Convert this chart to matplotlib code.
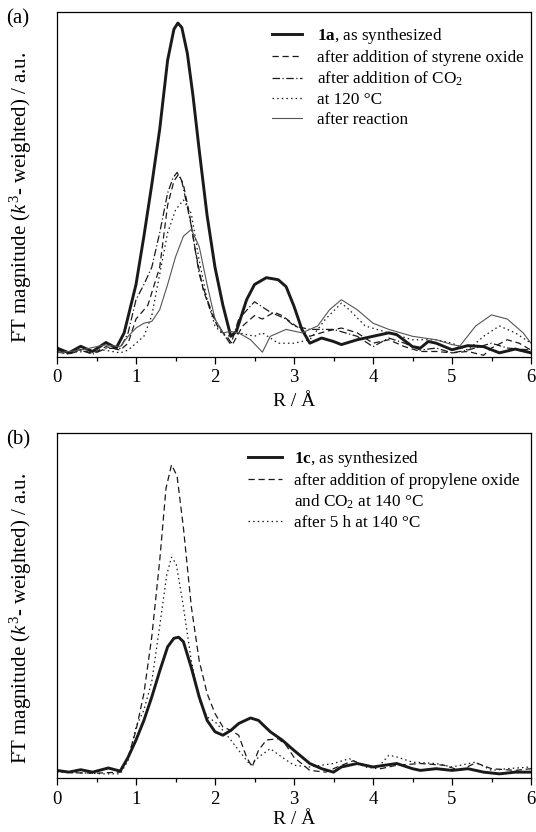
import matplotlib
matplotlib.use('Agg')
import matplotlib.pyplot as plt
from matplotlib.lines import Line2D

plt.rcParams['font.family'] = ['Liberation Serif', 'DejaVu Serif']
plt.rcParams['mathtext.fontset'] = 'custom'
plt.rcParams['mathtext.rm'] = 'Liberation Serif'
plt.rcParams['mathtext.it'] = 'Liberation Serif:italic'
plt.rcParams['mathtext.bf'] = 'Liberation Serif:bold'

# ---- panel (a): FT magnitude vs R (a.u., 0-100 scale)
r_a1 = [0, 0.15, 0.3, 0.45, 0.62, 0.75, 0.85, 1.0, 1.1, 1.2, 1.3, 1.4, 1.48, 1.53, 1.58, 1.65, 1.72, 1.8, 1.9,
        2.0, 2.1, 2.2, 2.27, 2.4, 2.5, 2.65, 2.8, 2.9, 3.0, 3.1, 3.2, 3.35, 3.5, 3.6, 3.8, 4.0, 4.2, 4.3,
        4.5, 4.6, 4.7, 4.8, 5.0, 5.2, 5.4, 5.6, 5.8, 6.0]
y_a1 = [2.6, 1.2, 3.1, 1.6, 4.2, 2.6, 7, 21, 35, 50, 66, 86, 95, 96.8, 95.5, 88, 76, 60, 41,
        26, 15, 6, 7.4, 16.6, 21, 23, 22.4, 20.4, 14.7, 8, 4, 5.5, 4.5, 3.6, 5, 6, 7, 6.5,
        3, 2.6, 4.5, 4, 2.1, 3.3, 3, 1.2, 2.3, 1.2]

r_a2 = [0, 0.15, 0.3, 0.45, 0.62, 0.8, 0.9, 1.0, 1.15, 1.3, 1.4, 1.48, 1.54, 1.6, 1.68, 1.75, 1.85, 1.95, 2.05,
        2.15, 2.22, 2.35, 2.5, 2.6, 2.75, 2.85, 3.0, 3.2, 3.4, 3.6, 3.8, 4.0, 4.2, 4.4, 4.6, 4.8, 5.0,
        5.2, 5.4, 5.5, 5.7, 5.85, 6.0]
y_a2 = [2, 1, 2.2, 1, 3, 2, 4, 11, 15, 26, 44, 51, 53, 50, 41, 31, 19.5, 13, 8,
        6, 3.6, 9, 12, 11, 13, 12, 9.4, 6, 7.4, 8.4, 7, 4, 5, 3, 1.6, 1.6, 1.2,
        1.6, 0.5, 2.6, 5, 4, 2]

r_a3 = [0, 0.15, 0.3, 0.45, 0.62, 0.8, 0.9, 1.0, 1.1, 1.2, 1.3, 1.4, 1.47, 1.52, 1.58, 1.7, 1.8, 1.9, 2.0,
        2.1, 2.2, 2.3, 2.5, 2.7, 2.9, 3.0, 3.2, 3.5, 3.8, 4.0, 4.2, 4.4, 4.6, 4.8, 5.0, 5.2, 5.5, 5.7, 6.0]
y_a3 = [1.5, 0.8, 2, 0.8, 2.5, 2.5, 7, 16.6, 21, 26, 36, 47.5, 52, 53.5, 51, 38, 24, 16.6, 11,
        7, 3.6, 11, 16, 13, 11, 9, 8, 8, 6, 3, 5.5, 4, 2, 2.6, 1.2, 2, 4, 2.6, 2]

r_a4 = [0, 0.3, 0.6, 0.8, 0.9, 1.0, 1.1, 1.2, 1.3, 1.4, 1.5, 1.6, 1.7, 1.8, 1.9, 2.0, 2.1, 2.2, 2.3, 2.5,
        2.6, 2.8, 3.0, 3.2, 3.4, 3.6, 3.7, 3.9, 4.2, 4.5, 4.8, 5.0, 5.2, 5.4, 5.6, 5.8, 6.0]
y_a4 = [1.5, 1.5, 2, 1.2, 2, 4, 6, 12, 24, 36, 42.6, 45.5, 41.6, 28, 16.6, 9, 6.5, 6, 7, 6,
        7, 4, 4, 5, 11, 15.6, 13.7, 9, 7, 5, 5, 4, 2, 6, 9, 7, 4]

r_a5 = [0, 0.3, 0.6, 0.8, 0.9, 1.0, 1.1, 1.2, 1.3, 1.4, 1.5, 1.6, 1.7, 1.8, 1.9, 2.0, 2.1, 2.2, 2.3, 2.45,
        2.6, 2.7, 2.9, 3.1, 3.3, 3.45, 3.6, 3.8, 4.0, 4.2, 4.5, 4.8, 5.0, 5.1, 5.3, 5.5, 5.7, 5.9, 6.0]
y_a5 = [1.2, 2, 3.5, 3, 6, 8.4, 9.8, 10.3, 13.7, 21, 29, 35, 37, 32, 21, 11, 7, 7.4, 7, 5,
        1.4, 6, 8, 7, 9, 13.7, 16.6, 13.7, 9.8, 8, 6, 5, 3.6, 3.2, 9, 12.2, 11, 7, 4]

labels_a = [r'$\mathbf{1a}$, as synthesized', 'after addition of styrene oxide',
            r'after addition of CO$_2$', 'at 120 °C', 'after reaction']

# ---- panel (b)
r_b1 = [0, 0.15, 0.3, 0.45, 0.65, 0.8, 0.9, 1.0, 1.1, 1.2, 1.3, 1.4, 1.48, 1.54, 1.6, 1.7, 1.8, 1.9, 2.0, 2.1,
        2.2, 2.3, 2.45, 2.55, 2.7, 2.85, 3.0, 3.2, 3.35, 3.5, 3.6, 3.8, 4.0, 4.3, 4.5, 4.6, 4.8, 5.0,
        5.2, 5.4, 5.6, 5.8, 6.0]
y_b1 = [2.2, 1.7, 2.4, 1.7, 2.9, 2.0, 6, 11, 16.7, 23.5, 31, 38, 40.5, 40.8, 39.5, 32, 23.5, 16.7, 13.4, 12.4,
        13.8, 15.8, 17.4, 16.7, 13.4, 11, 8, 4.2, 2.7, 1.7, 3.2, 4.2, 3.2, 4.2, 2.7, 2.2, 2.7, 2.2,
        2.7, 1.7, 1.2, 1.7, 1.7]

r_b2 = [0, 0.2, 0.5, 0.8, 0.9, 1.0, 1.1, 1.2, 1.3, 1.38, 1.45, 1.52, 1.6, 1.7, 1.8, 1.9, 2.0, 2.1, 2.2,
        2.3, 2.4, 2.47, 2.55, 2.65, 2.8, 2.9, 3.0, 3.2, 3.4, 3.55, 3.75, 3.9, 4.1, 4.3, 4.6, 4.9, 5.1,
        5.3, 5.5, 5.8, 6.0]
y_b2 = [2.2, 1.5, 1.4, 1.7, 6, 13.8, 24.5, 41, 63, 84, 90.8, 87.5, 72.6, 49.7, 34, 24.5, 18.7, 14.8, 13.8,
        12.4, 6, 3.2, 8, 11, 11.4, 9.5, 6, 2.2, 1.7, 3.2, 5, 3.7, 2.7, 3.7, 4.2, 3.7, 2.2,
        4.4, 2.7, 2.2, 2.7]

r_b3 = [0, 0.3, 0.6, 0.8, 0.9, 1.0, 1.1, 1.2, 1.3, 1.39, 1.45, 1.51, 1.6, 1.7, 1.8, 1.9, 2.0, 2.1, 2.2,
        2.3, 2.45, 2.55, 2.7, 2.85, 3.0, 3.2, 3.5, 3.7, 3.9, 4.05, 4.2, 4.3, 4.5, 4.8, 5.0, 5.3, 5.5,
        5.7, 6.0]
y_b3 = [1.7, 1.5, 1.2, 1.2, 5, 14.8, 19.7, 28, 44, 59, 64, 62, 49.7, 34, 22.6, 17.7, 16.3, 13.8, 11,
        8, 3.7, 6, 8.5, 6, 3.7, 3.2, 4.2, 5.6, 3.2, 2.7, 6.6, 6.1, 4.6, 4.2, 3.2, 4.6, 2.2,
        2.7, 3.2]

labels_b = [r'$\mathbf{1c}$, as synthesized', 'after addition of propylene oxide',
            r'and CO$_2$ at 140 °C', 'after 5 h at 140 °C']

W, H = 536, 832
fig = plt.figure(figsize=(W / 100, H / 100), dpi=100)


def add_axes(left, top, right, bottom):
    return fig.add_axes([left / W, 1 - bottom / H, (right - left) / W, (bottom - top) / H])


def style(ax):
    ax.set_xlim(0, 6)
    ax.set_ylim(0, 100)
    ax.set_xticks(range(7))
    ax.set_xticks([0.5 + i for i in range(6)], minor=True)
    ax.set_yticks([])
    ax.tick_params(axis='x', which='major', direction='out', length=5, width=0.9, labelsize=13.5, pad=4)
    ax.tick_params(axis='x', which='minor', direction='out', length=3, width=0.9)
    for s in ax.spines.values():
        s.set_linewidth(0.9)


ink = '#1a1a1a'
dash = (0, (5, 3))
dashdot = (0, (6, 2, 1, 2))
dot = (0, (1.2, 2.5))
leg_kw = dict(loc='upper left', frameon=False, fontsize=12.3, labelspacing=0.22,
              borderpad=0, borderaxespad=0)

ax1 = add_axes(57, 12, 531, 357)
ax1.plot(r_a1, y_a1, color=ink, lw=2.1, label=labels_a[0])
ax1.plot(r_a2, y_a2, color=ink, lw=0.9, ls=dash, label=labels_a[1])
ax1.plot(r_a3, y_a3, color=ink, lw=0.9, ls=dashdot, label=labels_a[2])
ax1.plot(r_a4, y_a4, color=ink, lw=0.9, ls=dot, label=labels_a[3])
ax1.plot(r_a5, y_a5, color='#555555', lw=0.8, label=labels_a[4])
style(ax1)
ax1.legend(bbox_to_anchor=((271.6 - 57) / 474, (357 - 26.3) / 345),
           handlelength=1.8, handletextpad=0.85, **leg_kw)

ax2 = add_axes(57, 433, 531, 778)
ax2.plot(r_b1, y_b1, color=ink, lw=2.1)
ax2.plot(r_b2, y_b2, color=ink, lw=0.9, ls=dash)
ax2.plot(r_b3, y_b3, color=ink, lw=0.9, ls=dot)
style(ax2)
handles_b = [Line2D([], [], color=ink, lw=2.1),
             Line2D([], [], color=ink, lw=0.9, ls=dash),
             Line2D([], [], color='none'),
             Line2D([], [], color=ink, lw=0.9, ls=dot)]
ax2.legend(handles_b, labels_b, bbox_to_anchor=((247.6 - 57) / 474, (778 - 449) / 345),
           handlelength=2.0, handletextpad=0.73, **leg_kw)

ylab = r'FT magnitude ($\mathit{k}^3$- weighted) / a.u.'
fig.text(21 / W, 1 - 198 / H, ylab, rotation=90, ha='center', va='center', fontsize=15)
fig.text(21 / W, 1 - (198 + 421) / H, ylab, rotation=90, ha='center', va='center', fontsize=15)
fig.text(294 / W, 1 - 401 / H, 'R / Å', ha='center', va='center', fontsize=14)
fig.text(294 / W, 1 - 820 / H, 'R / Å', ha='center', va='center', fontsize=14)
fig.text(18 / W, 1 - 19 / H, '(a)', ha='center', va='center', fontsize=15)
fig.text(18 / W, 1 - 440 / H, '(b)', ha='center', va='center', fontsize=15)

fig.savefig('out.png', dpi=100)
